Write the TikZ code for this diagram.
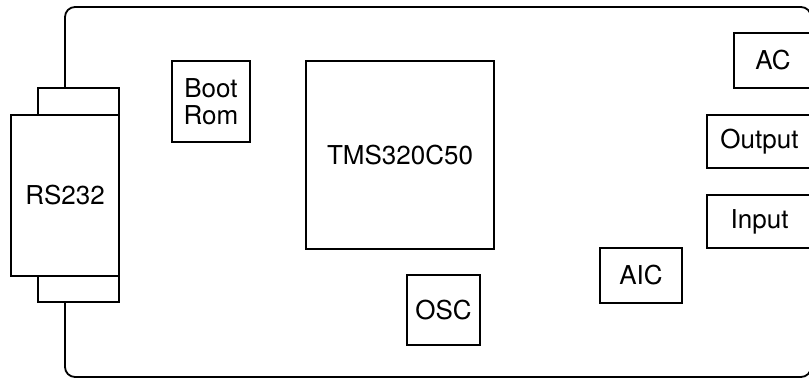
\documentclass[tikz,border=0pt]{standalone}
\usepackage{fontspec}
\setmainfont{TeX Gyre Heros}
\usetikzlibrary{positioning}

\begin{document}
\begin{tikzpicture}[x=1pt, y=-1pt, line width=1.8pt,
        part/.style={draw, inner sep=0pt, align=center, font=\fontsize{26}{27}\selectfont}]
        \useasboundingbox (0, 0) rectangle (809, 382);
        \clip (0, 0) rectangle (809, 382);
        % serial connector
        \node[part, minimum width=81pt, minimum height=27pt] (rstop) at (78.5, 101.5) {};
        \node[part, minimum width=81pt, minimum height=26pt] (rsbot) at (78.5, 289) {};
        \node[part, fill=white, minimum width=108pt, minimum height=161pt] (rs) at (65, 195.5) {RS232};
        % board outline, its right side lies past the page edge
        \draw[rounded corners=10pt] (65, 88) -- (65, 7) -- (811, 7) -- (811, 377) -- (65, 377) -- (65, 302);
        % parts on the board
        \node[part, minimum width=78pt, minimum height=81pt] (boot) at (211, 101.5) {Boot\\Rom};
        \node[part, minimum width=188pt, minimum height=188pt] (dsp) at (400, 155) {TMS320C50};
        \node[part, minimum width=73pt, minimum height=70pt] (osc) at (443.5, 310) {OSC};
        \node[part, minimum width=82pt, minimum height=55pt] (aic) at (641, 275.5) {AIC};
        \node[part, minimum width=78pt, minimum height=55pt] (ac) at (773, 60.5) {AC};
        \node[part, minimum width=105pt, minimum height=53pt] (outp) at (759.5, 141.5) {Output};
        \node[part, minimum width=105pt, minimum height=53pt] (inp) at (759.5, 221.5) {Input};
    \end{tikzpicture}
\end{document}
